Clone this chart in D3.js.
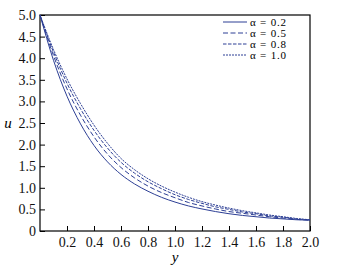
<!DOCTYPE html>
<html>
<head>
<meta charset="utf-8">
<script src="https://cdn.jsdelivr.net/npm/d3@7"></script>
<style>
  body { margin: 0; background: #fff; }
  text { font-family: "Liberation Serif", "DejaVu Serif", serif; }
</style>
</head>
<body>
<div id="chart"></div>
<script>
// y positions (0 to 2.0 in steps of 0.1)
var yPos = [0, 0.1, 0.2, 0.3, 0.4, 0.5, 0.6, 0.7, 0.8, 0.9, 1.0,
            1.1, 1.2, 1.3, 1.4, 1.5, 1.6, 1.7, 1.8, 1.9, 2.0];

// u values, one array per alpha
var uAlpha02 = [5.00, 3.95, 3.12, 2.48, 1.98, 1.60, 1.31, 1.09, 0.92, 0.78, 0.67,
                0.58, 0.51, 0.45, 0.40, 0.36, 0.33, 0.30, 0.28, 0.26, 0.25];
var uAlpha05 = [5.00, 4.06, 3.29, 2.68, 2.18, 1.78, 1.47, 1.23, 1.04, 0.89, 0.77,
                0.66, 0.58, 0.51, 0.45, 0.41, 0.37, 0.33, 0.30, 0.27, 0.25];
var uAlpha08 = [5.00, 4.14, 3.42, 2.83, 2.33, 1.92, 1.59, 1.34, 1.14, 0.98, 0.84,
                0.73, 0.64, 0.56, 0.50, 0.44, 0.40, 0.35, 0.32, 0.28, 0.26];
var uAlpha10 = [5.00, 4.20, 3.52, 2.95, 2.45, 2.03, 1.68, 1.42, 1.21, 1.04, 0.90,
                0.78, 0.68, 0.60, 0.53, 0.47, 0.42, 0.37, 0.33, 0.29, 0.26];

var seriesNames = ["\u03b1 = 0.2", "\u03b1 = 0.5", "\u03b1 = 0.8", "\u03b1 = 1.0"];

var xTicks = [0.2, 0.4, 0.6, 0.8, 1.0, 1.2, 1.4, 1.6, 1.8, 2.0];
var yTicks = [0, 0.5, 1.0, 1.5, 2.0, 2.5, 3.0, 3.5, 4.0, 4.5, 5.0];

var dashes = [null, "5,2.5", "3.5,1.5", "2,1"];
var lineColor = "#2d3f95";

var margin = {top: 15, right: 36, bottom: 42, left: 40},
    width = 346 - margin.left - margin.right,
    height = 273 - margin.top - margin.bottom;

var x = d3.scaleLinear().domain([0, 2]).range([0, width]);
var y = d3.scaleLinear().domain([0, 5]).range([height, 0]);

var svg = d3.select("#chart").append("svg")
    .attr("width", 346)
    .attr("height", 273)
  .append("g")
    .attr("transform", "translate(" + margin.left + "," + margin.top + ")");

// axes with inward ticks
var xa = d3.axisBottom(x).tickValues(xTicks).tickSizeInner(-5).tickSizeOuter(0)
    .tickPadding(6).tickFormat(d3.format(".1f"));
var ya = d3.axisLeft(y).tickValues(yTicks).tickSizeInner(-5).tickSizeOuter(0)
    .tickPadding(4).tickFormat(function(d) { return d === 0 ? "0" : d3.format(".1f")(d); });

var gx = svg.append("g")
    .attr("transform", "translate(0," + height + ")")
    .call(xa);
var gy = svg.append("g").call(ya);

[gx, gy].forEach(function(g) {
  g.select(".domain").remove();
  g.selectAll("line").attr("stroke", "#000").attr("stroke-width", 1);
  g.selectAll("text").attr("fill", "#111").style("font-size", "14px");
});

// frame
svg.append("rect")
    .attr("width", width)
    .attr("height", height)
    .attr("fill", "none")
    .attr("stroke", "#000")
    .attr("stroke-width", 1.2);

// curves
var allSeries = [uAlpha02, uAlpha05, uAlpha08, uAlpha10];
var line = d3.line()
    .x(function(d, i) { return x(yPos[i]); })
    .y(function(d) { return y(d); })
    .curve(d3.curveMonotoneX);

svg.selectAll(".curve")
    .data(allSeries)
  .enter().append("path")
    .attr("class", "curve")
    .attr("d", line)
    .attr("fill", "none")
    .attr("stroke", lineColor)
    .attr("stroke-width", 1)
    .attr("stroke-dasharray", function(d, i) { return dashes[i]; });

// legend
var lg = svg.append("g").attr("transform", "translate(183,7)");
seriesNames.forEach(function(name, i) {
  var row = lg.append("g").attr("transform", "translate(0," + (i * 11) + ")");
  row.append("line")
      .attr("x1", 0).attr("x2", 24)
      .attr("stroke", lineColor)
      .attr("stroke-width", 1)
      .attr("stroke-dasharray", dashes[i]);
  row.append("text")
      .attr("x", 27)
      .attr("dy", "0.35em")
      .style("font-size", "11px")
      .style("letter-spacing", "0.8px")
      .text(name);
});

// axis titles
svg.append("text")
    .attr("x", x(1.0))
    .attr("y", height + 31)
    .attr("text-anchor", "middle")
    .style("font-size", "15px")
    .style("font-style", "italic")
    .text("y");

svg.append("text")
    .attr("x", -32)
    .attr("y", y(2.5))
    .attr("dy", "0.3em")
    .attr("text-anchor", "middle")
    .style("font-size", "15px")
    .style("font-style", "italic")
    .text("u");
</script>
</body>
</html>
